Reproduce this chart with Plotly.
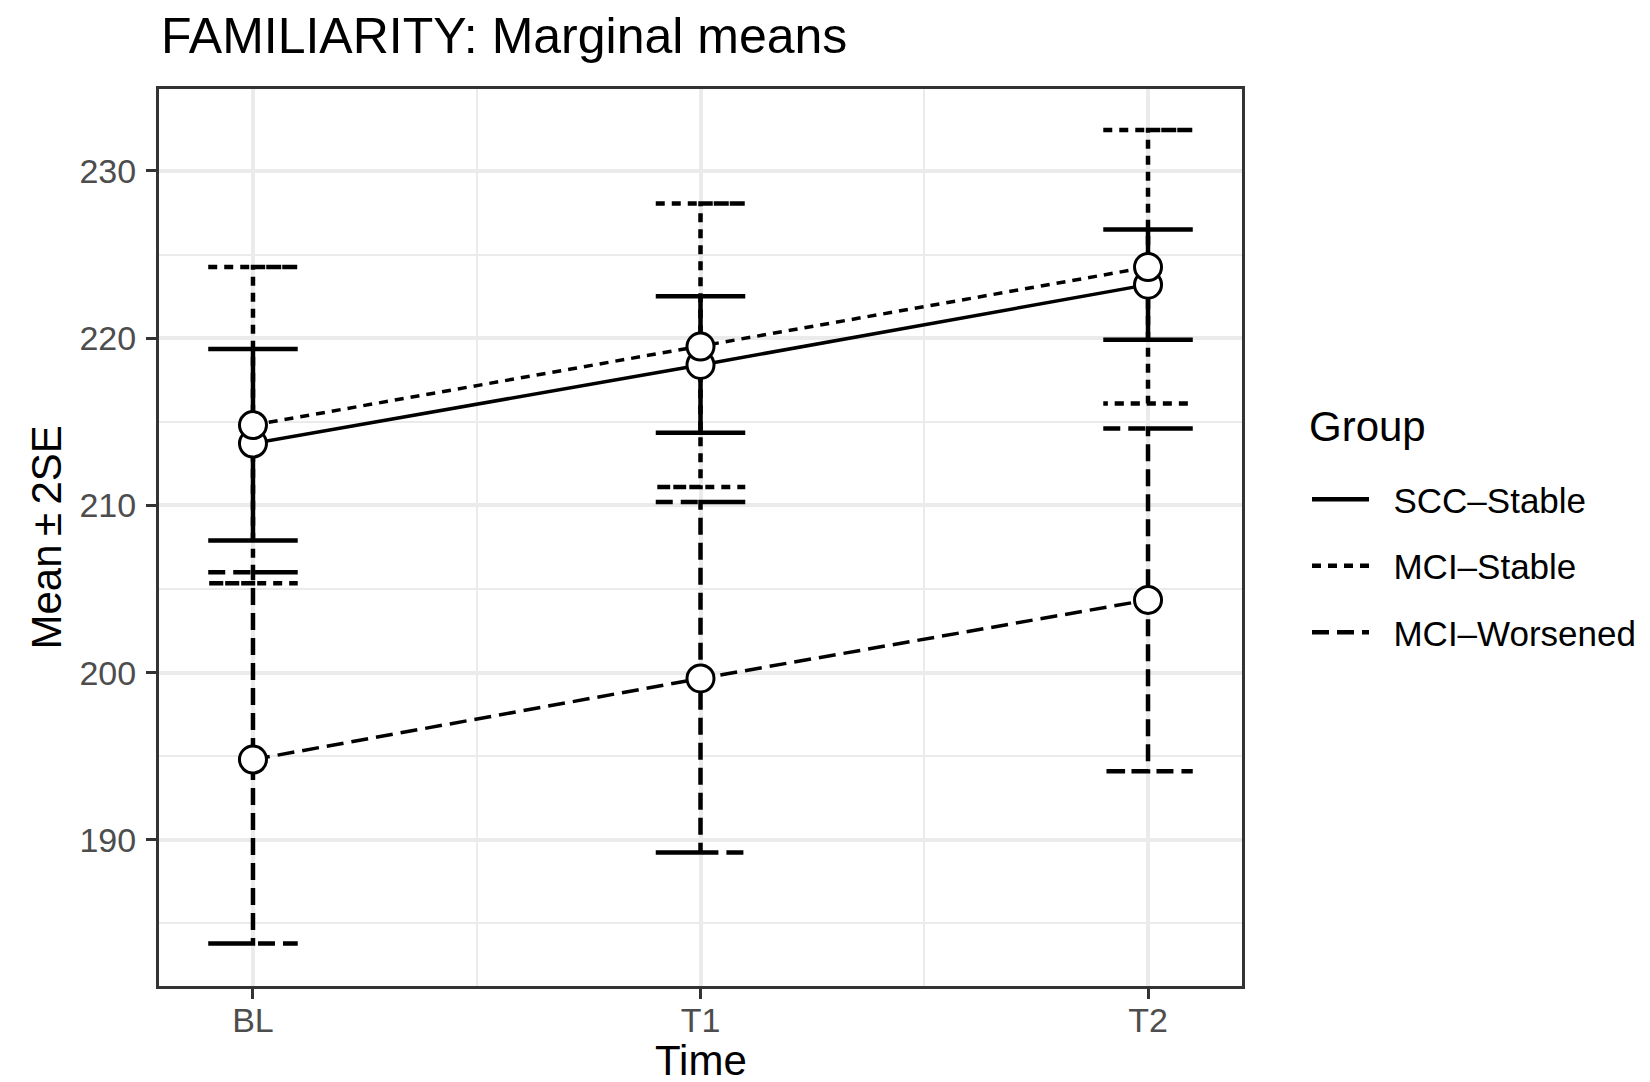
import plotly.graph_objects as go

# Marginal means of FAMILIARITY by time point and group (mean and mean +/- 2SE)
time_labels = ["BL", "T1", "T2"]
time_pos = [0, 1, 2]
groups = ["SCC\u2013Stable", "MCI\u2013Stable", "MCI\u2013Worsened"]

scc_mean = [213.7, 218.4, 223.2]
scc_low = [207.9, 214.35, 219.9]
scc_high = [219.35, 222.5, 226.5]

mcis_mean = [214.8, 219.5, 224.25]
mcis_low = [205.35, 211.1, 216.1]
mcis_high = [224.25, 228.05, 232.45]

mciw_mean = [194.8, 199.65, 204.35]
mciw_low = [183.8, 189.25, 194.1]
mciw_high = [206.0, 210.2, 214.6]

FONT = "Liberation Sans, Arial, Helvetica, sans-serif"
W, H = 1650, 1082
L, R, T, B = 151, 416, 81, 104
plot_w = W - L - R
plot_h = H - T - B
cap_half = 0.1
dashes = ["solid", "9px,7px", "17px,8px"]
pad = "\u00a0\u00a0"  # gap between legend key and label

series = [
    (groups[0], scc_mean, scc_low, scc_high, dashes[0]),
    (groups[1], mcis_mean, mcis_low, mcis_high, dashes[1]),
    (groups[2], mciw_mean, mciw_low, mciw_high, dashes[2]),
]

fig = go.Figure()

# error bars (vertical line + two caps), drawn as plain line paths so they can be dashed
for name, mean, low, high, dash in series:
    xs, ys = [], []
    for x, lo, hi in zip(time_pos, low, high):
        xs += [x - cap_half, x + cap_half, x, x, x - cap_half, x + cap_half, None]
        ys += [hi, hi, hi, lo, lo, lo, None]
    fig.add_trace(go.Scatter(
        x=xs, y=ys, mode="lines", name=pad + name, legendgroup=name,
        line=dict(color="black", width=4.5, dash=dash),
        hoverinfo="skip",
    ))

# lines joining the means
for name, mean, low, high, dash in series:
    fig.add_trace(go.Scatter(
        x=time_pos, y=mean, mode="lines", legendgroup=name, showlegend=False,
        line=dict(color="black", width=3.5, dash=dash),
    ))

# open circles at the means
for name, mean, low, high, dash in series:
    fig.add_trace(go.Scatter(
        x=time_pos, y=mean, mode="markers", legendgroup=name, showlegend=False,
        marker=dict(size=27, color="white", line=dict(color="black", width=3)),
    ))

axis_common = dict(
    showline=True, mirror=True, linecolor="#333333", linewidth=3,
    gridcolor="#EBEBEB", gridwidth=4, zeroline=False,
    ticks="outside", ticklen=10, tickwidth=3, tickcolor="#333333",
    tickfont=dict(family=FONT, size=34, color="#4D4D4D"),
)

fig.update_xaxes(
    range=[-0.21, 2.21], tickvals=time_pos, ticktext=time_labels,
    ticklabelstandoff=-8,
    minor=dict(dtick=0.5, tick0=0, showgrid=True, gridcolor="#EBEBEB", gridwidth=2, ticks=""),
    **axis_common,
)
fig.update_yaxes(
    range=[181.26, 234.9], tickvals=[190, 200, 210, 220, 230],
    ticklabelstandoff=3,
    minor=dict(dtick=5, tick0=0, showgrid=True, gridcolor="#EBEBEB", gridwidth=2, ticks=""),
    **axis_common,
)

fig.update_layout(
    width=W, height=H,
    margin=dict(l=L, r=R, t=T, b=B),
    paper_bgcolor="white", plot_bgcolor="white",
    font=dict(family=FONT, color="black"),
    title=dict(
        text="FAMILIARITY: Marginal means",
        xref="container", x=153 / W, xanchor="left",
        yref="container", y=1 - 27.5 / H, yanchor="middle",
        font=dict(family=FONT, size=50, color="black"),
    ),
    legend=dict(
        font=dict(family=FONT, size=35, color="black"),
        xref="container", x=1299 / W, xanchor="left",
        yref="container", y=1 - 462 / H, yanchor="top",
        traceorder="grouped", tracegroupgap=18, itemwidth=57,
        bgcolor="rgba(0,0,0,0)",
    ),
    annotations=[
        dict(text="Group", xref="paper", x=(1299 - L) / plot_w, xanchor="left",
             yref="paper", y=(H - B - 418) / plot_h, yanchor="middle",
             showarrow=False, font=dict(family=FONT, size=42, color="black")),
        dict(text="Time", xref="paper", x=0.5, xanchor="center",
             yref="paper", y=(H - B - 1052) / plot_h, yanchor="middle",
             borderpad=0,
             showarrow=False, font=dict(family=FONT, size=42, color="black")),
        dict(text="Mean\u2009\u00b1\u20092SE", textangle=-90,
             xref="paper", x=(38 - L) / plot_w, xanchor="center",
             yref="paper", y=0.5, yanchor="middle",
             showarrow=False, font=dict(family=FONT, size=42, color="black")),
    ],
)

fig.write_html("out.html")
